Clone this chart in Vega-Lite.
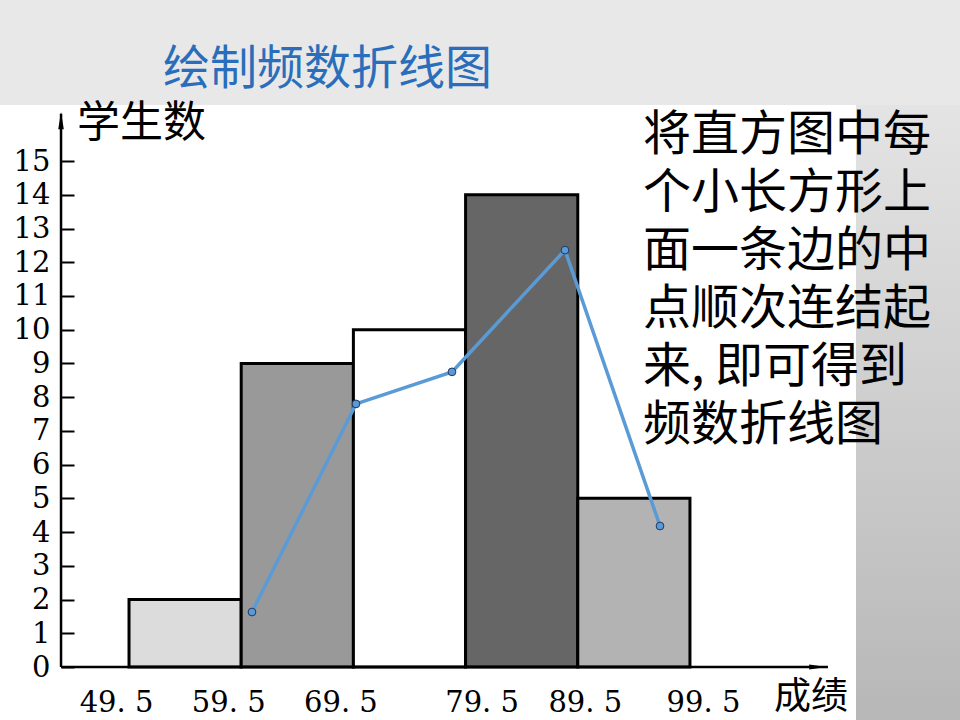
{
  "$schema": "https://vega.github.io/schema/vega-lite/v6.json",
  "width": 856,
  "height": 615,
  "autosize": {"type": "none"},
  "padding": {"left": 0, "top": 105, "right": 104, "bottom": 0},
  "background": "#e8e8e8",
  "config": {
    "view": {"stroke": null, "fill": "white"},
    "font": "Noto Sans CJK SC"
  },
  "title": {
    "text": "绘制频数折线图",
    "anchor": "start",
    "frame": "group",
    "dx": 163,
    "offset": 9,
    "font": "Noto Sans CJK SC",
    "fontSize": 47,
    "fontWeight": "normal",
    "color": "#2a6ebb"
  },
  "data": {"values": [{"注": "标注"}]},
  "datasets": {
    "bars": [
      {"组": "49.5~59.5", "下限": 49.5, "上限": 59.5, "学生数": 2},
      {"组": "59.5~69.5", "下限": 59.5, "上限": 69.5, "学生数": 9},
      {"组": "69.5~79.5", "下限": 69.5, "上限": 79.5, "学生数": 10},
      {"组": "79.5~89.5", "下限": 79.5, "上限": 89.5, "学生数": 14},
      {"组": "89.5~99.5", "下限": 89.5, "上限": 99.5, "学生数": 5}
    ],
    "line": [
      {"成绩": 60.46, "学生数": 1.63},
      {"成绩": 69.73, "学生数": 7.8},
      {"成绩": 78.29, "学生数": 8.75},
      {"成绩": 88.36, "学生数": 12.36},
      {"成绩": 96.83, "学生数": 4.18}
    ]
  },
  "layer": [
    {
      "mark": {"type": "rect", "fill": {"gradient": "linear", "x1": 0, "y1": 0, "x2": 0, "y2": 1,
        "stops": [{"offset": 0, "color": "#e4e4e4"}, {"offset": 1, "color": "#b7b7b7"}]}},
      "encoding": {
        "x": {"datum": 114.3, "type": "quantitative"},
        "x2": {"datum": 124.0},
        "y": {"datum": -1.571, "type": "quantitative"},
        "y2": {"datum": 16.662}
      }
    },
    {
      "data": {"name": "bars"},
      "mark": {"type": "rect", "stroke": "black", "strokeWidth": 3},
      "encoding": {
        "x": {
          "field": "下限", "type": "quantitative",
          "scale": {"domain": [38.0, 114.3], "nice": false, "zero": false},
          "axis": {
            "orient": "bottom", "offset": -53, "values": [49.5, 59.5, 69.5, 79.5, 89.5, 99.5],
            "format": ".1f",
            "ticks": false, "domain": false, "grid": false, "title": null,
            "labelExpr": "replace(datum.label, '.', '. ')",
            "labelFont": "DejaVu Serif", "labelFontSize": 29, "labelColor": "black",
            "labelBaseline": "middle", "labelPadding": 35,
            "labelFlush": false, "labelOverlap": false,
            "labelOffset": {"condition": [
              {"test": "datum.value < 75", "value": -13},
              {"test": "datum.value < 85", "value": 16},
              {"test": "datum.value < 95", "value": 7}
            ], "value": 13}
          }
        },
        "x2": {"field": "上限"},
        "y": {
          "field": "学生数", "type": "quantitative",
          "scale": {"domain": [-1.571, 16.662], "nice": false, "zero": false},
          "axis": {
            "orient": "left", "offset": -61, "values": [0, 1, 2, 3, 4, 5, 6, 7, 8, 9, 10, 11, 12, 13, 14, 15],
            "domain": false, "grid": false, "title": null,
            "tickSize": -13, "tickWidth": 2, "tickColor": "black",
            "labelFont": "DejaVu Serif", "labelFontSize": 29, "labelColor": "black",
            "labelBaseline": "middle", "labelPadding": 24
          }
        },
        "y2": {"datum": 0},
        "fill": {
          "field": "组", "type": "nominal", "legend": null,
          "scale": {
            "domain": ["49.5~59.5", "59.5~69.5", "69.5~79.5", "79.5~89.5", "89.5~99.5"],
            "range": ["#dcdcdc", "#999999", "#ffffff", "#666666", "#b3b3b3"]
          }
        }
      }
    },
    {
      "mark": {"type": "rule", "stroke": "black", "strokeWidth": 2.5},
      "encoding": {
        "x": {"datum": 43.44, "type": "quantitative"},
        "y": {"datum": 0, "type": "quantitative"},
        "y2": {"datum": 16.4}
      }
    },
    {
      "mark": {"type": "rule", "stroke": "black", "strokeWidth": 2.5},
      "encoding": {
        "x": {"datum": 43.44, "type": "quantitative"},
        "x2": {"datum": 111.8},
        "y": {"datum": 0, "type": "quantitative"}
      }
    },
    {
      "mark": {"type": "point", "shape": "M0,-1L0.32,1L-0.32,1Z", "filled": true, "color": "black", "opacity": 1, "size": 300},
      "encoding": {
        "x": {"datum": 43.44, "type": "quantitative"},
        "y": {"datum": 16.2, "type": "quantitative"}
      }
    },
    {
      "mark": {"type": "point", "shape": "M1,0L-1,-0.28L-1,0.28Z", "filled": true, "color": "black", "opacity": 1, "size": 300},
      "encoding": {
        "x": {"datum": 110.9, "type": "quantitative"},
        "y": {"datum": 0, "type": "quantitative"}
      }
    },
    {
      "data": {"name": "line"},
      "mark": {"type": "line", "color": "#5b9bd5", "strokeWidth": 3.5},
      "encoding": {
        "x": {"field": "成绩", "type": "quantitative"},
        "y": {"field": "学生数", "type": "quantitative"}
      }
    },
    {
      "data": {"name": "line"},
      "mark": {"type": "point", "filled": true, "fill": "#5b9bd5", "stroke": "#1f3864", "strokeWidth": 1, "size": 60, "opacity": 1},
      "encoding": {
        "x": {"field": "成绩", "type": "quantitative"},
        "y": {"field": "学生数", "type": "quantitative"}
      }
    },
    {
      "mark": {"type": "text", "align": "left", "baseline": "middle", "font": "Noto Sans CJK SC", "fontSize": 43, "color": "black", "text": "学生数"},
      "encoding": {
        "x": {"datum": 44.87, "type": "quantitative"},
        "y": {"datum": 16.1, "type": "quantitative"}
      }
    },
    {
      "mark": {"type": "text", "align": "center", "baseline": "middle", "font": "Noto Sans CJK SC", "fontSize": 37, "color": "black", "text": "成绩"},
      "encoding": {
        "x": {"datum": 110.3, "type": "quantitative"},
        "y": {"datum": -0.93, "type": "quantitative"}
      }
    },
    {
      "mark": {"type": "text", "align": "left", "baseline": "top", "font": "Noto Sans CJK SC", "fontSize": 48, "lineHeight": 58, "color": "black",
        "text": ["将直方图中每", "个小长方形上", "面一条边的中", "点顺次连结起", "来, 即可得到", "频数折线图"]},
      "encoding": {
        "x": {"datum": 95.31, "type": "quantitative"},
        "y": {"datum": 16.46, "type": "quantitative"}
      }
    }
  ]
}
